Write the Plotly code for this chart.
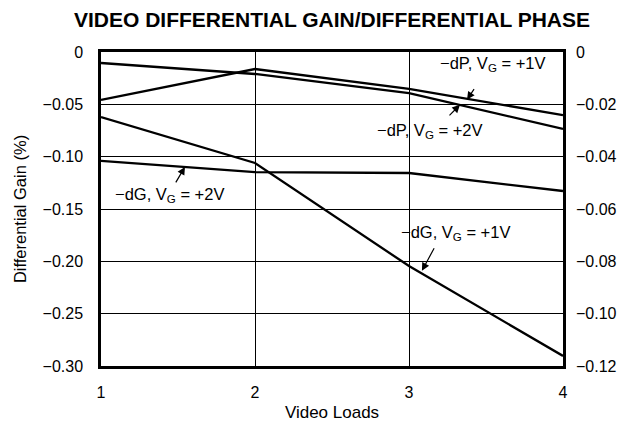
import plotly.graph_objects as go

# ---- data ----
video_loads = [1, 2, 3, 4]
dG_1V = [-0.0621, -0.1060, -0.2045, -0.2904]   # -dG, VG=+1V (left axis, %)
dG_2V = [-0.1040, -0.1147, -0.1156, -0.1328]   # -dG, VG=+2V (left axis, %)
dP_1V = [-0.0183, -0.0065, -0.0141, -0.0241]   # -dP, VG=+1V (right axis)
dP_2V = [-0.0042, -0.0084, -0.0157, -0.0294]   # -dP, VG=+2V (right axis)

x_ticks = [1, 2, 3, 4]
x_ticktext = ["1", "2", "3", "4"]
left_ticks = [0, -0.05, -0.10, -0.15, -0.20, -0.25, -0.30]
left_ticktext = ["0", "\u22120.05", "\u22120.10", "\u22120.15", "\u22120.20", "\u22120.25", "\u22120.30"]
right_ticks = [0, -0.02, -0.04, -0.06, -0.08, -0.10, -0.12]
right_ticktext = ["0", "\u22120.02", "\u22120.04", "\u22120.06", "\u22120.08", "\u22120.10", "\u22120.12"]

FONT = "Liberation Sans, Arial, sans-serif"
LW = 2.3

fig = go.Figure()
fig.add_trace(go.Scatter(x=video_loads, y=dG_1V, mode="lines", name="-dG, VG=+1V",
                         line=dict(color="black", width=LW)))
fig.add_trace(go.Scatter(x=video_loads, y=dG_2V, mode="lines", name="-dG, VG=+2V",
                         line=dict(color="black", width=LW)))
fig.add_trace(go.Scatter(x=video_loads, y=dP_1V, mode="lines", name="-dP, VG=+1V",
                         yaxis="y2", line=dict(color="black", width=LW)))
fig.add_trace(go.Scatter(x=video_loads, y=dP_2V, mode="lines", name="-dP, VG=+2V",
                         yaxis="y2", line=dict(color="black", width=LW)))

txt_font = dict(family=FONT, size=16.5, color="black")

# text labels
labels = [
    ("\u2212dP, V<sub>G</sub> = +1V", 3.539, -0.0110, "y"),
    ("\u2212dP, V<sub>G</sub> = +2V", 3.136, -0.0755, "y"),
    ("\u2212dG, V<sub>G</sub> = +2V", 1.448, -0.1366, "y"),
    ("\u2212dG, V<sub>G</sub> = +1V", 3.299, -0.1729, "y"),
]
annotations = []
for t, x, y, yr in labels:
    annotations.append(dict(text=t, x=x, y=y, xref="x", yref=yr, showarrow=False,
                            font=txt_font, xanchor="center", yanchor="middle"))

# arrows (tip on the line, tail offset in pixels)
arrows = [
    (3.377, -0.0182, "y2", 8, -12),
    (3.331, -0.0202, "y2", -12, 12),
    (1.545, -0.1098, "y", -10, 17),
    (3.084, -0.2090, "y", 13, -24),
]
for x, y, yr, ax, ay in arrows:
    annotations.append(dict(text="", x=x, y=y, xref="x", yref=yr, ax=ax, ay=ay,
                            showarrow=True, arrowhead=2, arrowsize=1.3,
                            arrowwidth=1.2, arrowcolor="black"))

fig.update_layout(
    width=630, height=425,
    margin=dict(l=101, r=67, t=52, b=59, autoexpand=False),
    paper_bgcolor="white", plot_bgcolor="white",
    showlegend=False,
    title=dict(text="<b>VIDEO DIFFERENTIAL GAIN/DIFFERENTIAL PHASE</b>",
               x=0.527, xanchor="center", y=1 - 20 / 425, yanchor="middle",
               font=dict(family=FONT, size=21, color="black")),
    xaxis=dict(range=[1, 4], tickvals=x_ticks, ticktext=x_ticktext,
               showgrid=True, gridcolor="black", gridwidth=1,
               showline=True, linecolor="black", linewidth=2.5, mirror=True,
               ticks="", ticklabelstandoff=10, zeroline=False, automargin=False,
               tickfont=dict(family=FONT, size=16, color="black"),
               title=dict(text="Video Loads", standoff=7,
                          font=dict(family=FONT, size=17, color="black"))),
    yaxis=dict(range=[-0.30, 0], tickvals=left_ticks, ticktext=left_ticktext,
               showgrid=True, gridcolor="black", gridwidth=1,
               showline=True, linecolor="black", linewidth=2.5, mirror=True,
               ticks="", ticklabelstandoff=12, zeroline=False, automargin=False,
               tickfont=dict(family=FONT, size=16, color="black"),
               title=dict(text="Differential Gain (%)", standoff=12,
                          font=dict(family=FONT, size=16.5, color="black"))),
    yaxis2=dict(range=[-0.12, 0], tickvals=right_ticks, ticktext=right_ticktext,
                overlaying="y", side="right", showgrid=False, zeroline=False,
                showline=False, ticks="", ticklabelstandoff=12, automargin=False,
                tickfont=dict(family=FONT, size=16, color="black")),
    annotations=annotations,
)

fig.write_html("out.html", config={"displayModeBar": False},
               post_script="document.body.style.margin='0';document.body.style.padding='0';")
